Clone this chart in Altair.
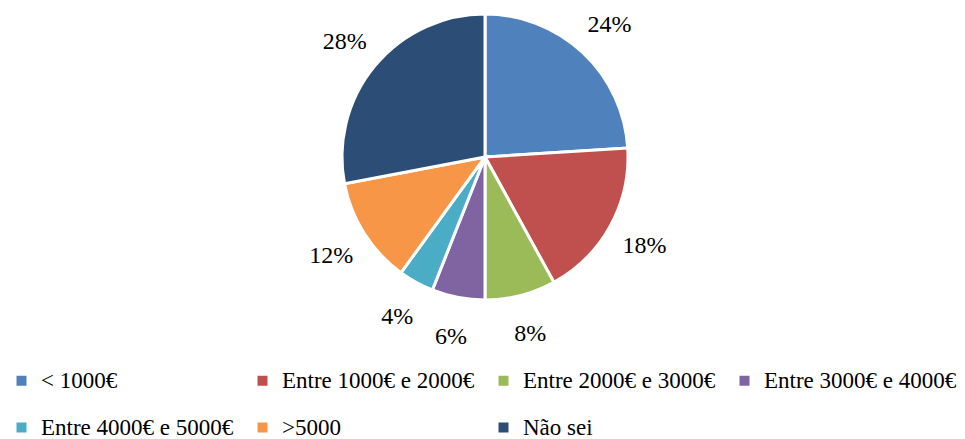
import altair as alt
import pandas as pd

categories = ["< 1000€", "Entre 1000€ e 2000€", "Entre 2000€ e 3000€",
              "Entre 3000€ e 4000€", "Entre 4000€ e 5000€", ">5000", "Não sei"]
values = [24, 18, 8, 6, 4, 12, 28]
labels = ["24%", "18%", "8%", "6%", "4%", "12%", "28%"]
colors = ["#4F81BD", "#C0504D", "#9BBB59", "#8064A2", "#4BACC6", "#F79646", "#2C4D75"]

df = pd.DataFrame({"cat": categories, "val": values, "lab": labels,
                   "idx": list(range(len(categories)))})

FONT = "Liberation Serif"

base = alt.Chart(df).encode(
    theta=alt.Theta("val:Q", stack=True),
    order=alt.Order("idx:Q", sort="ascending"),
)

pie = base.mark_arc(outerRadius=143, stroke="white", strokeWidth=3).encode(
    x=alt.value(477), y=alt.value(149),
    color=alt.Color("cat:N", sort=categories,
                    scale=alt.Scale(domain=categories, range=colors),
                    legend=alt.Legend(title=None, orient="none", legendX=2, legendY=361,
                                      direction="horizontal",
                                      columns=4, symbolType="square", symbolSize=100,
                                      symbolStrokeWidth=0, labelFont=FONT, labelFontSize=23,
                                      labelColor="black", labelOffset=8, columnPadding=17,
                                      rowPadding=23, gridAlign="all", labelLimit=400)),
)

text = base.mark_text(radius=182, font=FONT, fontSize=24, color="black",
                      baseline="middle", align="center").encode(
    x=alt.value(477), y=alt.value(150),
    text="lab:N",
)

chart = (pie + text).properties(
    width=949, height=431, autosize=alt.AutoSizeParams(type="none"), padding=0
).configure_view(stroke=None)

chart.save("out.html", embed_options={"renderer": "svg", "actions": False})
